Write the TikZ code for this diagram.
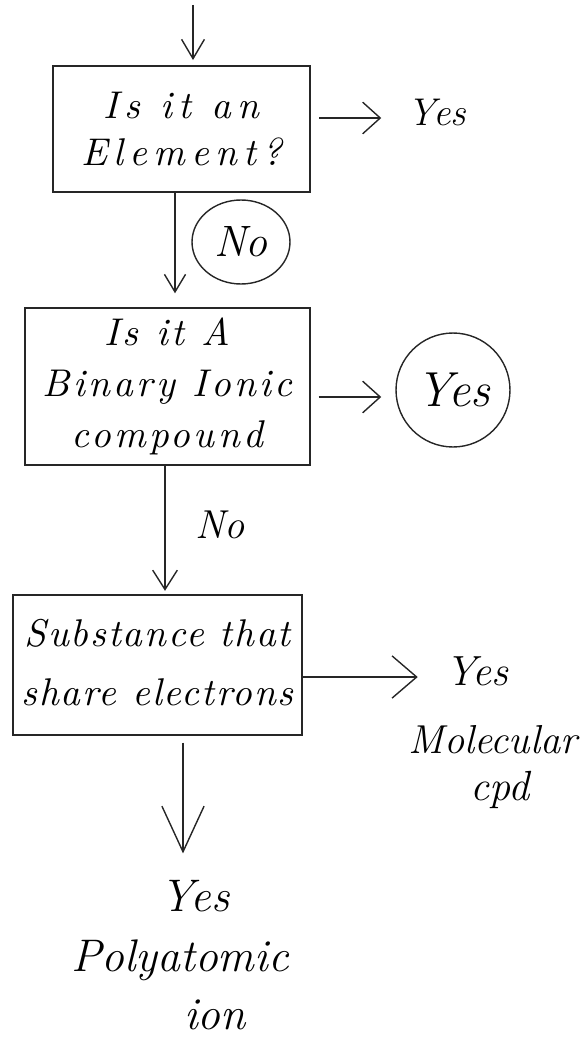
\documentclass[tikz,border=0pt]{standalone}
\usepackage{fontspec}
\newfontfamily\handA[LetterSpace=16]{lmroman10-italic.otf}
\newfontfamily\handB[LetterSpace=9]{lmroman10-italic.otf}
\newfontfamily\handC[LetterSpace=5]{lmroman10-italic.otf}
\usetikzlibrary{arrows.meta,shapes.geometric}
\begin{document}
\begin{tikzpicture}[x=0.02cm,y=-0.02cm,
  ink/.style={draw=black!85, line width=0.8pt},
  box/.style={ink, rectangle, align=center, inner sep=0pt},
  lbl/.style={inner sep=3pt, align=center, font=\fontsize{22}{28}\selectfont\itshape},
  arr/.style={ink, -{Straight Barb[length=10pt,width=18pt,line width=0.8pt]}},
]
\useasboundingbox (0,0) rectangle (583,1044);

% boxes
\node[box, minimum width=5.14cm, minimum height=2.52cm,
      font=\handA\fontsize{22}{27}\selectfont] (b1) at (181.5,129) {Is it an\\Element?};
\node[box, minimum width=5.7cm, minimum height=3.14cm,
      font=\handB\fontsize{22}{29}\selectfont] (b2) at (167.5,386.5) {Is it A\\Binary Ionic\\compound};
\node[box, minimum width=5.78cm, minimum height=2.8cm,
      font=\handC\fontsize{22}{31}\selectfont] (b3) at (157.5,665) {\raisebox{0.2cm}{\begin{tabular}{@{}c@{}}Substance that\\[3pt]share electrons\end{tabular}}};

% labels
\coordinate (start) at (193,5);
\node[lbl, font=\fontsize{22}{24}\selectfont\itshape] (yes1) at (437,112) {Yes};
\node[ink, ellipse, minimum width=1.96cm, minimum height=1.68cm, inner sep=0pt,
      font=\fontsize{25}{28}\selectfont\itshape] (no1) at (241,242) {No};
\node[ink, circle, minimum size=2.28cm, inner sep=0pt,
      font=\fontsize{28}{32}\selectfont\itshape] (yes2) at (453,390) {Yes};
\node[lbl, font=\fontsize{23}{28}\selectfont\itshape] (no2) at (220,525) {No};
\node[lbl, font=\fontsize{24}{28}\selectfont\itshape] (yes3) at (477,671) {Yes};
\node[lbl, font=\fontsize{23}{28}\selectfont\itshape] (mol) at (493,740) {Molecular};
\node[lbl, font=\fontsize{24}{28}\selectfont\itshape] (cpd) at (500,790) {cpd};
\node[lbl, font=\fontsize{26}{30}\selectfont\itshape] (yes4) at (195,896) {Yes};
\node[lbl, font=\fontsize{26}{30}\selectfont\itshape] (poly) at (180,960) {Polyatomic};
\node[lbl, font=\fontsize{26}{30}\selectfont\itshape] (ion) at (215,1015) {ion};

% connectors
\draw[arr, -{Straight Barb[length=11pt,width=13pt,line width=0.8pt]}, shorten >=3pt]
  (start) -- (start |- b1.north);
\draw[arr, shorten <=5pt, shorten >=12pt]
  ([yshift=0.22cm]b1.east) -- ([yshift=0.22cm]b1.east -| yes1.west);
\draw[arr, -{Straight Barb[length=10pt,width=12pt,line width=0.8pt]}, shorten >=8pt]
  ([xshift=-0.13cm]b1.south) -- ([xshift=-0.13cm]b1.south |- b2.north);
\draw[arr, shorten <=4.5pt, shorten >=8pt]
  ([yshift=-0.21cm]b2.east) -- ([yshift=-0.21cm]b2.east -| yes2.west);
\draw[arr, -{Straight Barb[length=11pt,width=14pt,line width=0.8pt]}, shorten >=2pt]
  ([xshift=-0.05cm]b2.south) -- ([xshift=-0.05cm]b2.south |- b3.north);
\draw[arr, -{Straight Barb[length=14pt,width=24pt,line width=0.8pt]}, shorten >=12.5pt]
  ([yshift=-0.24cm]b3.east) -- ([yshift=-0.24cm]b3.east -| yes3.west);
\draw[arr, -{Straight Barb[length=26pt,width=24pt,line width=0.8pt]}, shorten <=4pt, shorten >=12pt]
  ([xshift=0.51cm]b3.south) -- ([xshift=0.51cm]b3.south |- yes4.north);
\end{tikzpicture}
\end{document}
